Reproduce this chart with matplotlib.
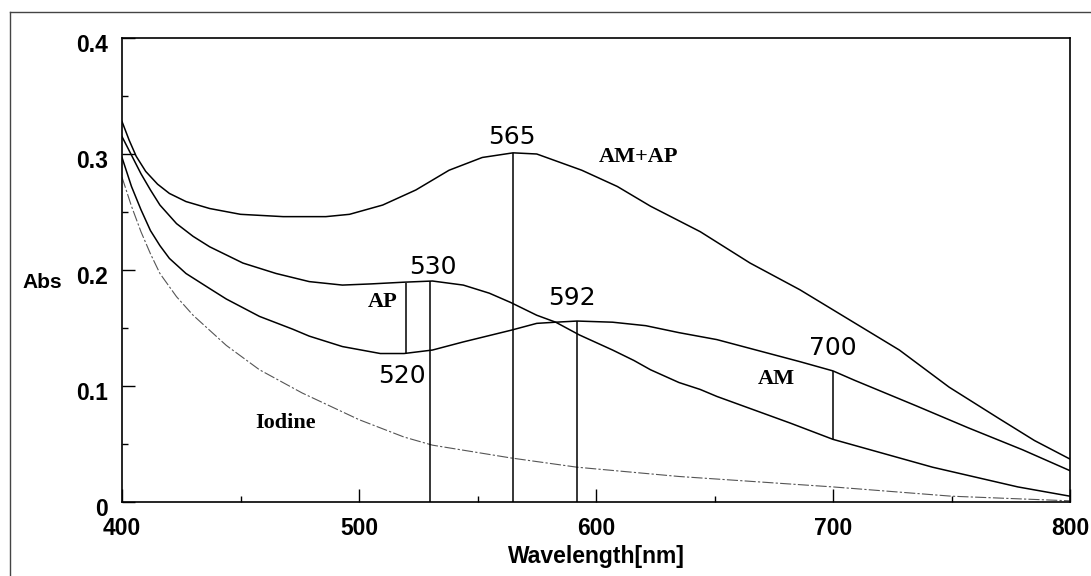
import matplotlib
matplotlib.use("Agg")
import matplotlib.pyplot as plt
import matplotlib.transforms as mtransforms
from matplotlib.lines import Line2D

# curves (wavelength nm, absorbance)
wl_amap = [400, 403, 406, 410, 415, 420, 427, 437, 450, 468, 486, 496, 510, 524, 538, 552, 565,
           575, 594, 609, 623, 644, 665, 686, 707, 728, 749, 770, 785, 800]
abs_amap = [0.328, 0.312, 0.298, 0.285, 0.274, 0.266, 0.259, 0.253, 0.248, 0.246, 0.246, 0.248,
            0.256, 0.269, 0.286, 0.297, 0.301, 0.300, 0.286, 0.272, 0.255, 0.233, 0.206, 0.183,
            0.157, 0.131, 0.099, 0.072, 0.053, 0.037]

wl_ap = [400, 404, 408, 412, 416, 423, 430, 437, 451, 465, 479, 493, 505, 519, 531, 544, 555, 564,
         575, 583, 593, 607, 616, 623, 635, 644, 651, 682, 700, 742, 778, 800]
abs_ap = [0.315, 0.299, 0.283, 0.269, 0.256, 0.240, 0.229, 0.220, 0.206, 0.197, 0.190, 0.187,
          0.188, 0.1895, 0.1905, 0.187, 0.180, 0.172, 0.161, 0.155, 0.144, 0.131, 0.122, 0.114,
          0.103, 0.097, 0.091, 0.068, 0.054, 0.030, 0.013, 0.005]

wl_am = [400, 404, 408, 412, 416, 420, 427, 437, 444, 458, 472, 479, 493, 509, 519, 531, 544, 564,
         575, 583, 592, 607, 621, 635, 651, 686, 700, 709, 735, 757, 780, 800]
abs_am = [0.297, 0.272, 0.252, 0.234, 0.221, 0.210, 0.197, 0.184, 0.175, 0.160, 0.149, 0.143,
          0.134, 0.128, 0.128, 0.131, 0.138, 0.148, 0.154, 0.155, 0.156, 0.155, 0.152, 0.146,
          0.140, 0.121, 0.113, 0.105, 0.083, 0.064, 0.045, 0.027]

wl_iod = [400, 404, 408, 412, 416, 423, 430, 437, 444, 458, 476, 500, 519, 531, 564, 592, 635,
          700, 750, 800]
abs_iod = [0.280, 0.255, 0.233, 0.214, 0.197, 0.177, 0.161, 0.148, 0.135, 0.114, 0.094, 0.071,
           0.056, 0.049, 0.038, 0.030, 0.022, 0.013, 0.005, 0.001]

# peak / trough marker lines: wavelength, lower and upper absorbance
mark_wl = [520, 530, 565, 592, 700]
mark_lo = [0.128, 0.0, 0.0, 0.0, 0.054]
mark_hi = [0.189, 0.1905, 0.301, 0.156, 0.113]

# wavelength labels next to the markers
num_text = ["520", "530", "565", "592", "700"]
num_x = [518, 531, 564.5, 590, 700]
num_y = [0.109, 0.203, 0.315, 0.176, 0.133]

# curve names
name_text = ["AM+AP", "AP", "AM", "Iodine"]
name_x = [618, 510, 676, 469]
name_y = [0.297, 0.172, 0.106, 0.068]

fig = plt.figure(figsize=(10.91, 5.76), dpi=100)
ax = fig.add_axes([122 / 1091, 74 / 576, 948 / 1091, 464 / 576])

ax.plot(wl_amap, abs_amap, color="black", lw=1.1)
ax.plot(wl_ap, abs_ap, color="black", lw=1.1)
ax.plot(wl_am, abs_am, color="black", lw=1.1)
ax.plot(wl_iod, abs_iod, color="#555555", lw=0.8, dashes=(10, 2, 2, 2))
ax.vlines(mark_wl, mark_lo, mark_hi, color="black", lw=1.1)

num_font = ["Liberation Sans Narrow", "DejaVu Sans"]
for t, x, y in zip(num_text, num_x, num_y):
    ax.text(x, y, t, family=num_font, fontsize=18, ha="center", va="center")
for t, x, y in zip(name_text, name_x, name_y):
    ax.text(x, y, t, family="Liberation Serif", fontweight="bold", fontsize=16,
            ha="center", va="center")

ax.set_xlim(400, 800)
ax.set_ylim(0, 0.4)
ax.set_xticks([400, 500, 600, 700, 800])
ax.set_xticks([450, 550, 650, 750], minor=True)
ax.set_yticks([0, 0.1, 0.2, 0.3, 0.4])
ax.set_yticklabels(["0", "0.1", "0.2", "0.3", "0.4"])
ax.set_yticks([0.05, 0.15, 0.25, 0.35], minor=True)
ax.tick_params(which="both", direction="in", top=False, right=False, width=1)
ax.tick_params(which="major", length=9.5)
ax.tick_params(which="minor", length=4.5)
ax.tick_params(axis="x", which="major", pad=10.5)
ax.tick_params(axis="y", which="major", pad=10)
for lab in ax.get_xticklabels() + ax.get_yticklabels():
    lab.set_family("Liberation Sans")
    lab.set_fontweight("bold")
    lab.set_fontsize(16.5)
shift = mtransforms.ScaledTranslation(0, -5 / 100, fig.dpi_scale_trans)
for lab in ax.get_yticklabels():
    lab.set_transform(lab.get_transform() + shift)
for sp in ax.spines.values():
    sp.set_linewidth(1.2)

ax.set_xlabel("Wavelength[nm]", family="Liberation Sans", fontweight="bold",
              fontsize=16.5, labelpad=4)
fig.text(42 / 1091, 1 - 283 / 576, "Abs", family="Liberation Sans", fontweight="bold",
         fontsize=15, ha="center", va="center")

# outer frame of the scanned figure
fig.add_artist(Line2D([10 / 1091, 10 / 1091], [0, 1 - 12 / 576], color="#444444", lw=1))
fig.add_artist(Line2D([10 / 1091, 1], [1 - 12 / 576, 1 - 12 / 576], color="#444444", lw=1))

fig.savefig("out.png", dpi=100)
